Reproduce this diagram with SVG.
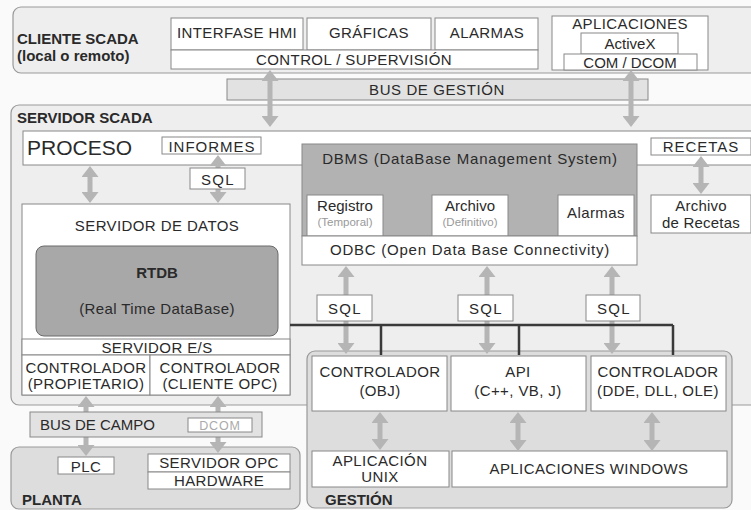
<svg xmlns="http://www.w3.org/2000/svg" width="751" height="510" viewBox="0 0 751 510">
<style>
text{font-family:"Liberation Sans",Arial,sans-serif;font-size:15px;fill:#2a2a2a;text-anchor:middle;letter-spacing:0.4px}
.l{text-anchor:start}
.b{font-weight:bold;font-size:15px;letter-spacing:0}
.sp{letter-spacing:1px}
.sql{letter-spacing:1.3px}
.sm{font-size:11.5px;fill:#999;letter-spacing:0}
.panel{fill:#eeeeee;stroke:#999;stroke-width:1.2}
.panel2{fill:#dddddd;stroke:#999;stroke-width:1.2}
.box{fill:#fff;stroke:#888;stroke-width:1}
.bus{fill:#e2e2e2;stroke:#888;stroke-width:1}
.arr{stroke:#b5b5b5;stroke-width:5;fill:none;marker-start:url(#ah);marker-end:url(#ah)}
.dark{stroke:#3a3a3a;stroke-width:2.5;fill:none}
</style>
<defs>
<marker id="ah" viewBox="0 0 11 17" refX="1" refY="8.5" markerWidth="11" markerHeight="17" markerUnits="userSpaceOnUse" orient="auto-start-reverse">
<path d="M0,0 L11,8.5 L0,17 z" fill="#b5b5b5"/>
</marker>
</defs>
<rect width="751" height="510" fill="#fafafa"/>

<g id="cliente">
<rect class="panel" x="13" y="7" width="770" height="66" rx="8"/>
<text class="b l" x="17" y="44">CLIENTE SCADA</text>
<text class="b l" x="17" y="61">(local o remoto)</text>
</g>
<g id="interfase"><rect class="box" x="171" y="18" width="132" height="32"/><text x="237" y="38">INTERFASE HMI</text></g>
<g id="graficas"><rect class="box" x="307" y="18" width="124" height="32"/><text x="369" y="38">GRÁFICAS</text></g>
<g id="alarmas-cli"><rect class="box" x="435" y="18" width="103" height="32"/><text x="487" y="38">ALARMAS</text></g>
<g id="control"><rect class="box" x="171" y="50" width="367" height="19"/><text x="354" y="65">CONTROL / SUPERVISIÓN</text></g>
<g id="aplicaciones">
<rect class="box" x="552" y="16" width="156" height="54"/>
<text x="630" y="29">APLICACIONES</text>
<rect class="box" x="581" y="33" width="97" height="21"/>
<text x="630" y="49" style="letter-spacing:0">ActiveX</text>
<rect class="box" x="564" y="54" width="133" height="16"/>
<text x="630" y="68" style="letter-spacing:0">COM / DCOM</text>
</g>

<g id="servidor">
<rect class="panel" x="11" y="105" width="770" height="300" rx="8"/>
<text class="b l" x="17" y="123">SERVIDOR SCADA</text>
</g>
<g id="proceso">
<rect class="box" x="23" y="131" width="760" height="34"/>
<text class="l" x="27" y="155" style="font-size:21px;letter-spacing:0">PROCESO</text>
</g>
<g id="informes"><rect class="box" x="162" y="137" width="99" height="17"/><text class="sp" x="212" y="152">INFORMES</text></g>
<g id="recetas"><rect class="box" x="651" y="138" width="100" height="17"/><text class="sp" x="701" y="152">RECETAS</text></g>
<g id="archivo-recetas"><rect class="box" x="651" y="195" width="100" height="38"/><text x="701" y="211" style="letter-spacing:0.2px">Archivo</text><text x="701" y="228" style="letter-spacing:0.2px">de Recetas</text></g>

<g id="servidor-datos">
<rect class="box" x="22" y="204" width="268" height="191"/>
<text x="157" y="231">SERVIDOR DE DATOS</text>
</g>
<g id="rtdb">
<rect x="36" y="246" width="242" height="90" rx="8" fill="#a8a8a8" stroke="#6a6a6a" stroke-width="1"/>
<text x="157" y="278" style="font-weight:bold;letter-spacing:0">RTDB</text>
<text x="157" y="314">(Real Time DataBase)</text>
</g>
<g id="servidor-es"><rect class="box" x="22" y="339" width="268" height="16"/><text x="157" y="353">SERVIDOR E/S</text></g>
<g id="ctrl-prop"><rect class="box" x="22" y="355" width="128" height="40"/><text x="86" y="373">CONTROLADOR</text><text x="86" y="389">(PROPIETARIO)</text></g>
<g id="ctrl-opc"><rect class="box" x="150" y="355" width="140" height="40"/><text x="220" y="373">CONTROLADOR</text><text x="220" y="389">(CLIENTE OPC)</text></g>

<g id="dbms">
<rect x="302" y="144" width="335" height="92" fill="#b2b2b2" stroke="#888" stroke-width="1"/>
<text x="470" y="164" style="letter-spacing:0.8px">DBMS (DataBase Management System)</text>
</g>
<g id="registro"><rect class="box" x="307" y="195" width="76" height="41"/><text x="345" y="211" style="letter-spacing:0">Registro</text><text class="sm" x="345" y="226">(Temporal)</text></g>
<g id="archivo"><rect class="box" x="432" y="195" width="76" height="41"/><text x="470" y="211" style="letter-spacing:0">Archivo</text><text class="sm" x="470" y="226">(Definitivo)</text></g>
<g id="alarmas-db"><rect class="box" x="558" y="195" width="76" height="41"/><text x="596" y="218">Alarmas</text></g>
<g id="odbc"><rect class="box" x="302" y="236" width="335" height="29"/><text x="470" y="255" style="letter-spacing:0.75px">ODBC (Open Data Base Connectivity)</text></g>

<g id="gestion">
<rect class="panel2" x="307" y="351" width="425" height="157" rx="8"/>
<text class="b l" x="325" y="505">GESTIÓN</text>
</g>
<g id="ctrl-obj"><rect class="box" x="312" y="356" width="135" height="55"/><text x="380" y="377">CONTROLADOR</text><text x="380" y="396">(OBJ)</text></g>
<g id="api"><rect class="box" x="451" y="356" width="135" height="55"/><text x="518" y="377">API</text><text x="518" y="396">(C++, VB, J)</text></g>
<g id="ctrl-dde"><rect class="box" x="591" y="356" width="135" height="55"/><text x="658" y="377">CONTROLADOR</text><text x="658" y="396">(DDE, DLL, OLE)</text></g>
<g id="app-unix"><rect class="box" x="312" y="451" width="137" height="36"/><text x="380" y="466">APLICACIÓN</text><text x="380" y="482">UNIX</text></g>
<g id="app-win"><rect class="box" x="452" y="451" width="275" height="36"/><text x="589" y="474">APLICACIONES WINDOWS</text></g>

<g id="planta">
<rect class="panel2" x="11" y="447" width="289" height="62" rx="8"/>
<text class="b l" x="22" y="505">PLANTA</text>
</g>
<g id="plc"><rect class="box" x="58" y="457" width="56" height="17"/><text x="86" y="472">PLC</text></g>
<g id="servidor-opc"><rect class="box" x="148" y="454" width="142" height="18"/><text x="219" y="468">SERVIDOR OPC</text></g>
<g id="hardware"><rect class="box" x="148" y="472" width="142" height="17"/><text x="219" y="486">HARDWARE</text></g>

<g id="bus-gestion"><rect class="bus" x="227" y="79" width="421" height="21"/><text x="437" y="95" style="letter-spacing:0.6px">BUS DE GESTIÓN</text></g>

<g id="connectors">
<path class="arr" d="M270,80 V117"/>
<path class="arr" d="M631,80 V117"/>
<path class="arr" d="M90,176 V193"/>
<path class="arr" d="M218,165 V193"/>
<path class="arr" d="M701,166 V184"/>
<path class="arr" d="M346,276 V344"/>
<path class="arr" d="M487,276 V344"/>
<path class="arr" d="M612,276 V344"/>
<path class="arr" d="M380,422 V440"/>
<path class="arr" d="M518,422 V441"/>
<path class="arr" d="M652,422 V441"/>
<path class="arr" d="M86,406 V446"/>
<path class="arr" d="M218,406 V443"/>
<path class="dark" d="M290,325 H673 M381,325 V355 M519,325 V355 M673,325 V355"/>
</g>

<g id="sql-informes"><rect class="box" x="190" y="168" width="55" height="21"/><text class="sql" x="218" y="185">SQL</text></g>
<g id="sql-1"><rect class="box" x="317" y="295" width="55" height="26"/><text class="sql" x="345" y="314">SQL</text></g>
<g id="sql-2"><rect class="box" x="458" y="295" width="55" height="26"/><text class="sql" x="486" y="314">SQL</text></g>
<g id="sql-3"><rect class="box" x="586" y="295" width="54" height="26"/><text class="sql" x="614" y="314">SQL</text></g>
<g id="bus-campo">
<rect class="bus" x="30" y="412" width="232" height="25"/>
<text class="l" x="40" y="430" style="letter-spacing:0">BUS DE CAMPO</text>
<rect class="box" x="188" y="418" width="64" height="14"/>
<text x="220" y="430" style="font-size:12.5px;fill:#aaa;letter-spacing:0.8px">DCOM</text>
</g>
</svg>
